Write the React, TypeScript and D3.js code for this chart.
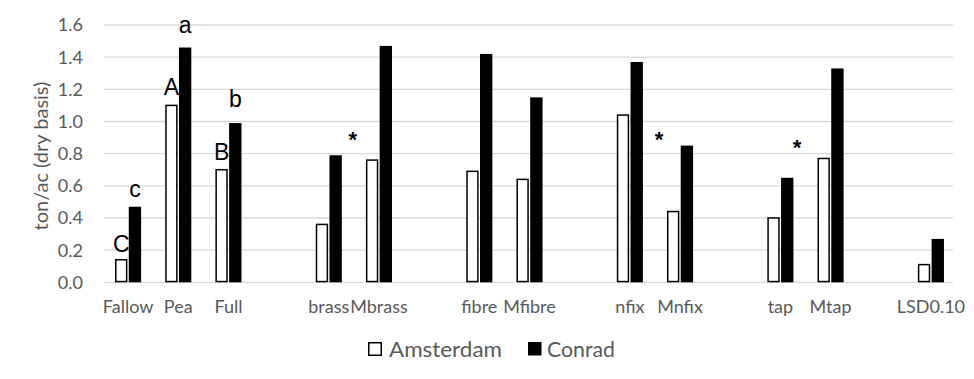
import React from "react";
import * as d3 from "d3";

const categories = ["Fallow", "Pea", "Full", "", "brass", "Mbrass", " ", "fibre", "Mfibre", "  ", "nfix", "Mnfix", "   ", "tap", "Mtap", "    ", "LSD0.10"];
const amsterdam = [0.14, 1.10, 0.70, null, 0.36, 0.76, null, 0.69, 0.64, null, 1.04, 0.44, null, 0.40, 0.77, null, 0.11];
const conrad = [0.47, 1.46, 0.99, null, 0.79, 1.47, null, 1.42, 1.15, null, 1.37, 0.85, null, 0.65, 1.33, null, 0.27];
const seriesNames = ["Amsterdam", "Conrad"];
const yTicks = [0, 0.2, 0.4, 0.6, 0.8, 1.0, 1.2, 1.4, 1.6];
// letter annotations: category, series index, label, value level (data units)
const letters = [
  { cat: "Fallow", s: 0, label: "C", v: 0.19 },
  { cat: "Fallow", s: 1, label: "c", v: 0.53 },
  { cat: "Pea", s: 0, label: "A", v: 1.165 },
  { cat: "Pea", s: 1, label: "a", v: 1.55 },
  { cat: "Full", s: 0, label: "B", v: 0.76 },
  { cat: "Full", s: 1, label: "b", v: 1.09 },
];
// asterisks: slot position (category boundary units) and value level
const asterisks = [
  { slot: 4.98, v: 0.84 },
  { slot: 11.08, v: 0.84 },
  { slot: 13.83, v: 0.79 },
];

const W = 974, H = 379;
const textGray = "#595959";
const font = "Lato, 'Open Sans', sans-serif";
const arial = "'Liberation Sans', Arial, sans-serif";

export default function App() {
  const x = d3.scaleBand<string>().domain(categories).range([103, 956]).paddingInner(0.48).paddingOuter(0.24);
  const xs = d3.scaleBand<string>().domain(seriesNames).range([0, x.bandwidth()]).paddingInner(0.1);
  const y = d3.scaleLinear().domain([0, 1.6]).range([282.3, 25]);
  const slotX = d3.scaleLinear().domain([0, categories.length]).range([103, 956]);
  const values = [amsterdam, conrad];

  return (
    <div style={{ margin: -8 }}>
      <svg width={W} height={H} style={{ display: "block", background: "#fff" }}>
        <rect x={3.5} y={4.5} width={W + 5} height={373} fill="#fff" stroke="#d9d9d9" strokeWidth={1} />
        {yTicks.map((t) => (
          <g key={t}>
            <line x1={104} x2={953} y1={y(t)} y2={y(t)} stroke="#d9d9d9" strokeWidth={1.3} />
            <text x={83} y={y(t)} dy="0.36em" textAnchor="end" fontFamily={font} fontSize={18} fill={textGray}>
              {d3.format(".1f")(t)}
            </text>
          </g>
        ))}
        <text
          transform={`translate(48,156) rotate(-90)`}
          textAnchor="middle"
          fontFamily={font}
          fontSize={20}
          fill={textGray}
        >
          ton/ac (dry basis)
        </text>
        {categories.map((c, i) =>
          values.map((arr, s) => {
            const v = arr[i];
            if (v == null) return null;
            const bx = (x(c) as number) + (xs(seriesNames[s]) as number);
            const bw = xs.bandwidth();
            return s === 0 ? (
              <rect key={c + s} x={bx + 0.75} y={y(v)} width={bw - 1.5} height={y(0) - y(v) - 0.75} fill="#fff" stroke="#000" strokeWidth={1.5} />
            ) : (
              <rect key={c + s} x={bx} y={y(v)} width={bw} height={y(0) - y(v)} fill="#000" />
            );
          })
        )}
        {categories.map((c) =>
          c.trim() ? (
            <text key={c} x={(x(c) as number) + x.bandwidth() / 2} y={312.5} textAnchor="middle" fontFamily={font} fontSize={18} fill={textGray}>
              {c}
            </text>
          ) : null
        )}
        {letters.map((l) => (
          <text
            key={l.label}
            x={(x(l.cat) as number) + (xs(seriesNames[l.s]) as number) + xs.bandwidth() / 2}
            y={y(l.v)}
            textAnchor="middle"
            fontFamily={arial}
            fontSize={23}
            fill="#000"
          >
            {l.label}
          </text>
        ))}
        {asterisks.map((a, i) => (
          <text key={i} x={slotX(a.slot)} y={y(a.v)} textAnchor="middle" fontFamily={arial} fontSize={22} fontWeight="bold" fill="#000">
            *
          </text>
        ))}
        <g fontFamily={font} fontSize={22} fill={textGray}>
          <rect x={368.75} y={342.75} width={12.5} height={12.5} fill="#fff" stroke="#000" strokeWidth={1.5} />
          <text x={389} y={349} dy="0.36em" textLength={113} lengthAdjust="spacingAndGlyphs">{seriesNames[0]}</text>
          <rect x={528} y={342} width={13.5} height={13.5} fill="#000" />
          <text x={547} y={349} dy="0.36em" textLength={68} lengthAdjust="spacingAndGlyphs">{seriesNames[1]}</text>
        </g>
      </svg>
    </div>
  );
}
